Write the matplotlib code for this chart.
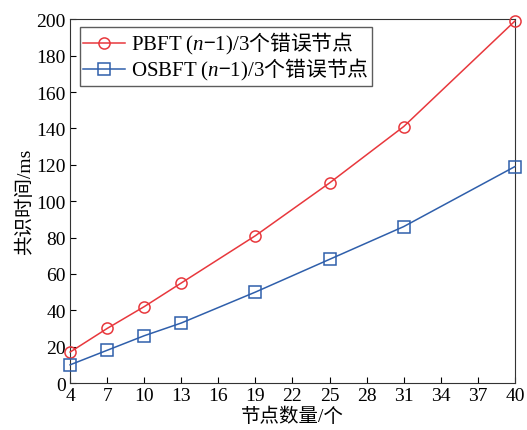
import numpy as np
import matplotlib.pyplot as plt

nodes = [4, 7, 10, 13, 19, 25, 31, 40]
pbft = [17, 30, 42, 55, 81, 110, 141, 199]
osbft = [10, 18, 26, 33, 50, 68, 86, 119]
labels = ['$\\mathsf{PBFT\\ (}n{\u2212}\\mathsf{1)/3}\\mathrm{个错误节点}$',
          '$\\mathsf{OSBFT\\ (}n{\u2212}\\mathsf{1)/3}\\mathrm{个错误节点}$']

plt.rcParams['font.family'] = ['Liberation Serif', 'Noto Sans CJK SC']
# custom mathtext so the legend can mix italic n, serif text and CJK
plt.rcParams['mathtext.fontset'] = 'custom'
plt.rcParams['mathtext.rm'] = 'Noto Sans CJK SC'
plt.rcParams['mathtext.it'] = 'Liberation Serif:italic'
plt.rcParams['mathtext.sf'] = 'Liberation Serif'
plt.rcParams['font.size'] = 14

fig, ax = plt.subplots(figsize=(5.27, 4.31), dpi=100)
fig.subplots_adjust(left=0.133, right=0.977, top=0.953, bottom=0.109)

ax.plot(nodes, pbft, color='#e8383d', marker='o', markersize=8, markerfacecolor='none',
        markeredgewidth=1.1, linewidth=1.1, label=labels[0], clip_on=False, zorder=3)
ax.plot(nodes, osbft, color='#2f5fab', marker='s', markersize=8, markerfacecolor='none',
        markeredgewidth=1.1, linewidth=1.1, label=labels[1], clip_on=False, zorder=3)

ax.set_xlim(4, 40)
ax.set_ylim(0, 200)
ax.set_xticks(np.arange(4, 41, 3))
ax.set_yticks(np.arange(0, 201, 20))
ax.tick_params(direction='in', length=4, labelsize=14, pad=3)
for s in ax.spines.values():
    s.set_color('#333333')
ax.set_xlabel('节点数量/个', fontsize=14, labelpad=2)
ax.set_ylabel('共识时间/ms', fontsize=14, labelpad=2)

leg = ax.legend(loc='upper left', bbox_to_anchor=(0.022, 0.978), borderaxespad=0,
                fontsize=15, frameon=True, fancybox=False, edgecolor='#333333',
                handlelength=2.0, borderpad=0.15, labelspacing=0.0, handletextpad=0.3)
leg.get_frame().set_linewidth(1.0)

plt.savefig('out.png')
